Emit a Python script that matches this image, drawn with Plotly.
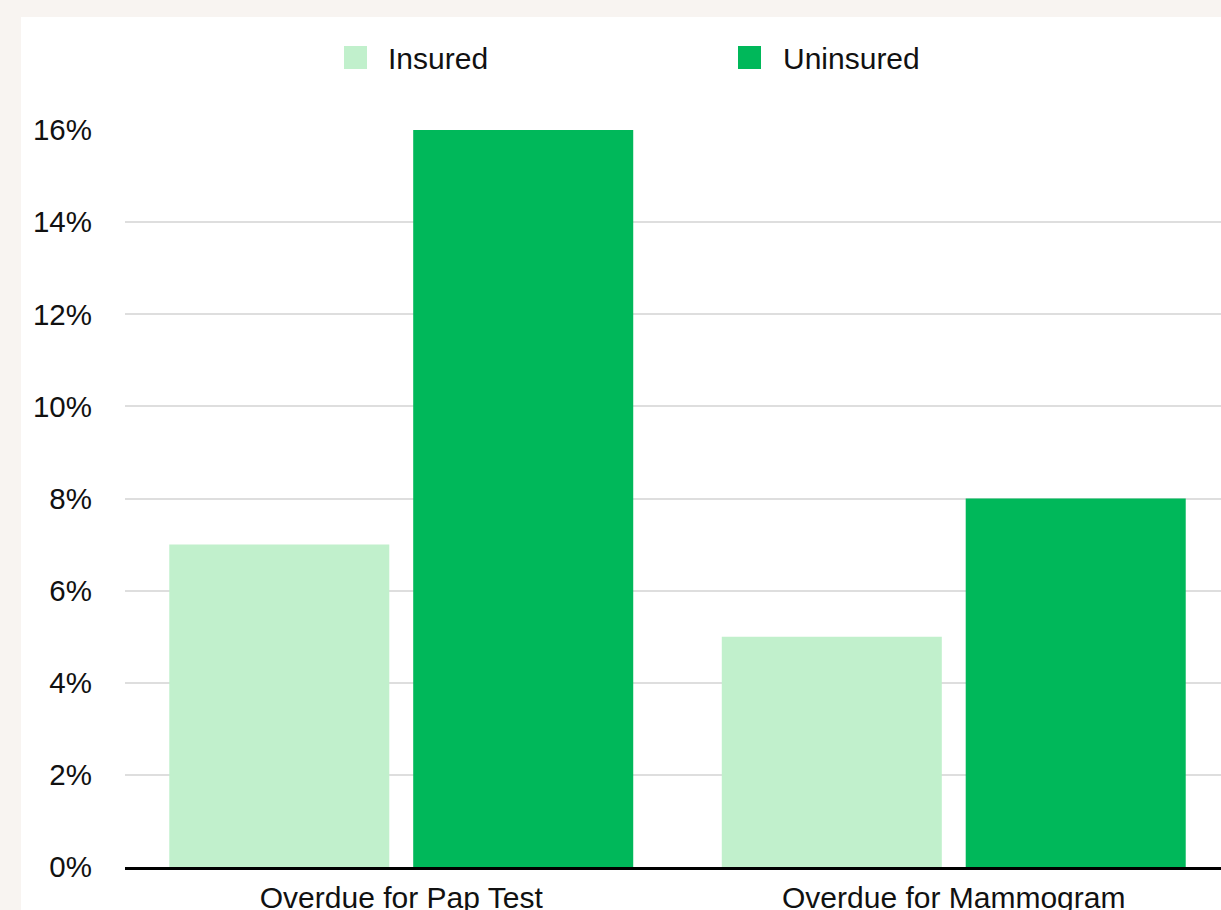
import plotly.graph_objects as go

categories = ["Overdue for Pap Test", "Overdue for Mammogram"]
series_names = ["Insured", "Uninsured"]
insured = [7, 5]
uninsured = [16, 8]
y_ticks = [0, 2, 4, 6, 8, 10, 12, 14, 16]

colors = ["#c1f0cc", "#00b85a"]
FONT = "Liberation Sans, Arial, Helvetica, sans-serif"

W, H = 1221, 910
L, R, T, B = 125, 0, 130, 43
pw, ph = W - L - R, H - T - B

def px(x):
    return (x - L) / pw

def py(y):
    return (H - B - y) / ph

fig = go.Figure()
for name, vals, col in zip(series_names, [insured, uninsured], colors):
    fig.add_trace(go.Bar(
        x=categories, y=vals, name=name,
        marker=dict(color=col, line=dict(width=0)),
        showlegend=False,
        hovertemplate="%{x}<br>" + name + ": %{y}%<extra></extra>",
    ))

shapes = [
    # white panel on beige page
    dict(type="rect", xref="paper", yref="paper", x0=px(21), x1=px(1300),
         y0=py(1000), y1=py(17), fillcolor="white", line=dict(width=0), layer="below"),
]
annotations = []
legend_pos = [(344, 386), (738, 781)]
for (sx, tx), name, col in zip(legend_pos, series_names, colors):
    shapes.append(dict(type="rect", xref="paper", yref="paper",
                       x0=px(sx), x1=px(sx + 23), y0=py(69), y1=py(46),
                       fillcolor=col, line=dict(width=0)))
    annotations.append(dict(xref="paper", yref="paper", x=px(tx), y=py(58),
                            xanchor="left", yanchor="middle", showarrow=False,
                            text=name, font=dict(family=FONT, size=30, color="#111111")))

fig.update_layout(
    width=W, height=H,
    margin=dict(l=L, r=R, t=T, b=B, pad=0, autoexpand=False),
    paper_bgcolor="#f8f4f1",
    plot_bgcolor="rgba(0,0,0,0)",
    barmode="group",
    bargap=0.117,
    bargroupgap=0.098,
    shapes=shapes,
    annotations=annotations,
    font=dict(family=FONT, size=28, color="#111111"),
    xaxis=dict(
        range=[-0.5, 1.4837],
        showgrid=False,
        showline=True, linecolor="#000000", linewidth=2.5,
        ticks="", tickfont=dict(size=30, family=FONT, color="#111111"),
        ticklabelstandoff=2,
        automargin=False,
        fixedrange=True,
    ),
    yaxis=dict(
        range=[0, 16],
        tickvals=y_ticks,
        ticktext=[f"{v}%" for v in y_ticks],
        showgrid=True, gridcolor="#dedede", gridwidth=1.5,
        zeroline=False,
        showline=False,
        ticks="",
        tickfont=dict(size=29.5, family=FONT, color="#111111"),
        ticklabelstandoff=32,
        automargin=False,
        fixedrange=True,
    ),
)

fig.write_html("out.html")
